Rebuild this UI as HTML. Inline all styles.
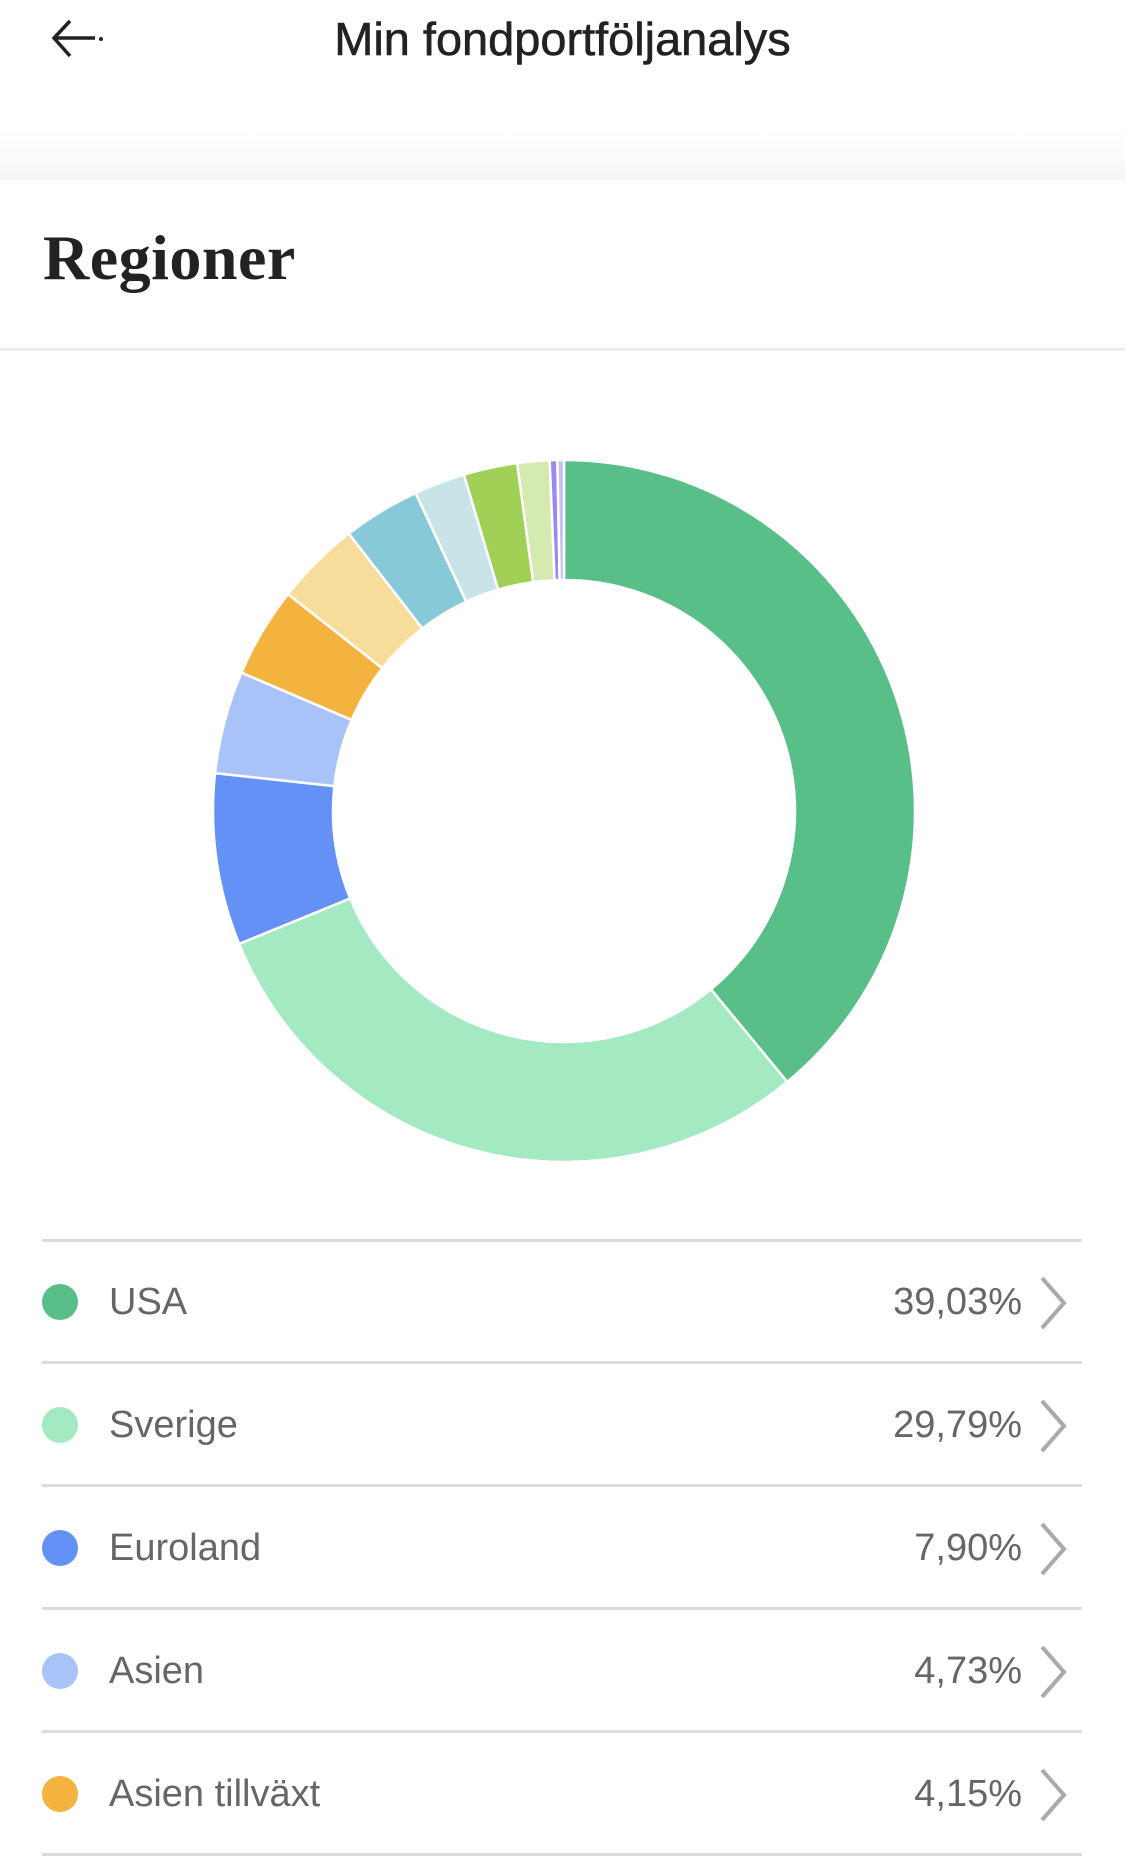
<!DOCTYPE html>
<html><head><meta charset="utf-8"><style>
html,body{margin:0;padding:0;width:1125px;height:1875px;background:#fff;overflow:hidden;font-family:"Liberation Sans",sans-serif}
.hdr{position:absolute;left:0;top:0;width:1125px;height:180px;background:linear-gradient(#fff 0,#fff 130px,#f6f6f6 179px)}
.title{position:absolute;top:12px;left:0;width:1125px;text-align:center;font-size:46px;color:#222;transform:scaleX(1.02);-webkit-text-stroke:0.6px #222}
.sec{position:absolute;left:0;top:180px;width:1125px;height:1695px;background:#fff}
.reg{position:absolute;left:43px;top:221px;font-family:"Liberation Serif",serif;font-weight:bold;font-size:64px;color:#222;letter-spacing:0.5px}
.sep{position:absolute;left:0;top:348px;width:1125px;height:3px;background:#efefef}
.line{position:absolute;left:42px;width:1040px;height:3px;background:#dcdcdc}
.row{position:absolute;left:0;width:1125px;height:60px}
.dot{position:absolute;left:42px;top:12px;width:36px;height:36px;border-radius:50%}
.lab{position:absolute;left:109px;top:9px;font-size:38px;color:#666}
.pct{position:absolute;right:103px;top:9px;font-size:38px;color:#666}
</style></head><body>
<div class="hdr"></div>
<svg style="position:absolute;left:48px;top:18px" width="60" height="46"><path d="M22 3 L6 20 L22 38 M6 20 L47 20" stroke="#222" stroke-width="3.5" fill="none"/><circle cx="53" cy="21" r="2" fill="#222"/></svg>
<div class="title">Min fondportföljanalys</div>
<div class="sec"></div>
<div class="reg">Regioner</div>
<div class="sep"></div>
<svg id="d" style="position:absolute;left:0;top:0" width="1125" height="1240"></svg>
<div class="line" style="top:1239px"></div>
<div class="line" style="top:1361px"></div>
<div class="line" style="top:1484px"></div>
<div class="line" style="top:1607px"></div>
<div class="line" style="top:1730px"></div>
<div class="line" style="top:1853px"></div>
<div class="row" style="top:1272px"><div class="dot" style="background:#57BF87"></div><div class="lab">USA</div><div class="pct">39,03%</div></div>
<div class="row" style="top:1395px"><div class="dot" style="background:#A3E9C2"></div><div class="lab">Sverige</div><div class="pct">29,79%</div></div>
<div class="row" style="top:1518px"><div class="dot" style="background:#6391F5"></div><div class="lab">Euroland</div><div class="pct">7,90%</div></div>
<div class="row" style="top:1641px"><div class="dot" style="background:#A9C3F9"></div><div class="lab">Asien</div><div class="pct">4,73%</div></div>
<div class="row" style="top:1764px"><div class="dot" style="background:#F4B33F"></div><div class="lab">Asien tillväxt</div><div class="pct">4,15%</div></div>
<svg style="position:absolute;left:1036px;top:1272px" width="40" height="600">
<g stroke="#aaa" stroke-width="4" fill="none">
<path d="M6 6 L28 31 L6 56"/><path d="M6 129 L28 154 L6 179"/><path d="M6 252 L28 277 L6 302"/><path d="M6 375 L28 400 L6 425"/><path d="M6 498 L28 523 L6 548"/></g></svg>
<script>
var d=[[39.03,"#57BF87"],[29.79,"#A3E9C2"],[7.90,"#6391F5"],[4.73,"#A9C3F9"],[4.15,"#F4B33F"],[3.9,"#F7DD9B"],[3.55,"#88C9D9"],[2.35,"#C9E4E9"],[2.47,"#A0D055"],[1.48,"#D4EAB0"],[0.35,"#9B87F0"],[0.3,"#C8BEF7"]];
var tot=0;d.forEach(function(x){tot+=x[0]});
var cx=564,cy=811,R=351,r=231,a=0,s="";
function p(ang,rad){var t=ang/tot*2*Math.PI;return (cx+rad*Math.sin(t)).toFixed(2)+" "+(cy-rad*Math.cos(t)).toFixed(2);}
d.forEach(function(x){var b=a+x[0],l=x[0]/tot>0.5?1:0;
s+='<path d="M'+p(a,R)+' A'+R+' '+R+' 0 '+l+' 1 '+p(b,R)+' L'+p(b,r)+' A'+r+' '+r+' 0 '+l+' 0 '+p(a,r)+' Z" fill="'+x[1]+'" stroke="#fff" stroke-width="2.5"/>';a=b;});
document.getElementById("d").innerHTML=s;
</script>
</body></html>
